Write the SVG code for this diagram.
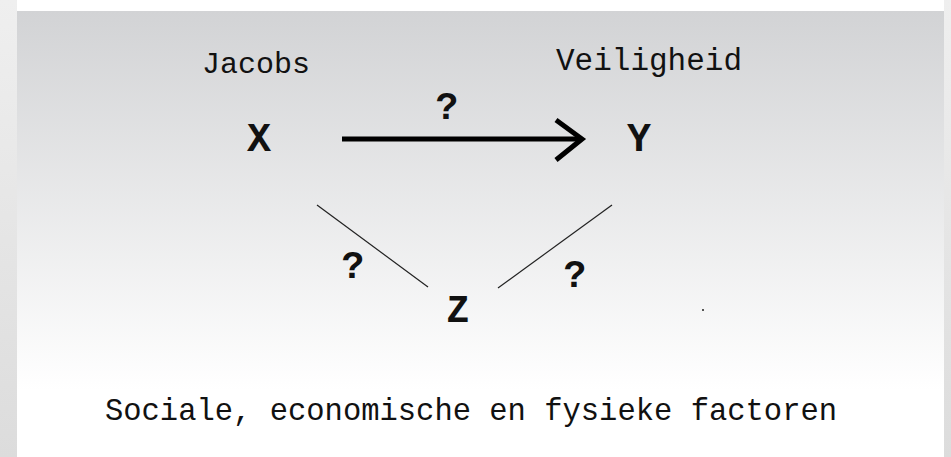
<svg xmlns="http://www.w3.org/2000/svg" width="951" height="457" viewBox="0 0 951 457">
<style>
.lbl{font-family:"Liberation Mono","Courier New",monospace;fill:#111;}
.big{font-family:"Liberation Mono","Courier New",monospace;font-weight:bold;fill:#111;}
.thin{stroke:#222;stroke-width:1.2;fill:none;}
</style>
<defs>
<linearGradient id="bg" x1="0" y1="11" x2="0" y2="457" gradientUnits="userSpaceOnUse">
<stop offset="0" stop-color="#d2d3d5"/>
<stop offset="0.85" stop-color="#ffffff"/>
<stop offset="1" stop-color="#ffffff"/>
</linearGradient>
<linearGradient id="side" x1="0" y1="0" x2="0" y2="457" gradientUnits="userSpaceOnUse">
<stop offset="0" stop-color="#efefef"/>
<stop offset="1" stop-color="#dcdcdc"/>
</linearGradient>
</defs>
<rect x="0" y="0" width="951" height="457" fill="#ffffff"/>
<rect x="0" y="0" width="17" height="457" fill="url(#side)"/>
<rect x="944" y="0" width="7" height="457" fill="url(#side)"/>
<rect x="17" y="11" width="927" height="446" fill="url(#bg)"/>
<g id="connectors">
<line x1="342" y1="139" x2="580" y2="139" stroke="#000" stroke-width="5"/>
<polyline points="556,120 582,139 556,160" fill="none" stroke="#000" stroke-width="5" stroke-linejoin="miter"/>
<line class="thin" x1="317" y1="205" x2="428" y2="287"/>
<line class="thin" x1="498" y1="288" x2="612" y2="205"/>
<text class="big" x="447" y="119" font-size="38" text-anchor="middle">?</text>
<text class="big" x="353" y="278" font-size="38" text-anchor="middle">?</text>
<text class="big" x="575" y="287" font-size="38" text-anchor="middle">?</text>
</g>
<g id="node-x">
<text class="lbl" x="256" y="73" font-size="30" text-anchor="middle">Jacobs</text>
<text class="big" x="259" y="151" font-size="40" text-anchor="middle">X</text>
</g>
<g id="node-y">
<text class="lbl" x="649" y="70" font-size="31" text-anchor="middle">Veiligheid</text>
<text class="big" x="639" y="151" font-size="40" text-anchor="middle">Y</text>
</g>
<g id="node-z">
<text class="big" x="458" y="322" font-size="38" text-anchor="middle">Z</text>
<text class="lbl" x="471" y="420" font-size="30.5" text-anchor="middle">Sociale, economische en fysieke factoren</text>
</g>
<rect x="702" y="309" width="2" height="2" fill="#555"/>
</svg>
